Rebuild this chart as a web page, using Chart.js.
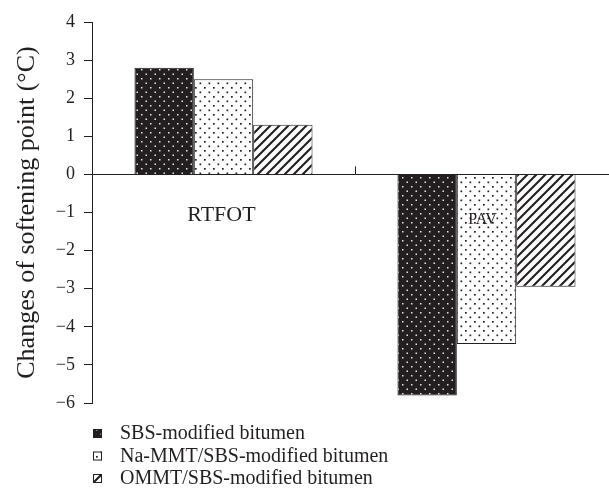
<!DOCTYPE html>
<html>
<head>
<meta charset="utf-8">
<script src="https://cdn.jsdelivr.net/npm/chart.js@4.4.0/dist/chart.umd.min.js"></script>
<style>
  html, body { margin:0; padding:0; background:#fff; overflow:hidden; }
  #wrap { width:630px; height:493px; }
</style>
</head>
<body>
<div id="wrap"><canvas id="chart"></canvas></div>
<script>
// data
const categories = ["RTFOT", "PAV"];
const seriesNames = ["SBS-modified bitumen", "Na-MMT/SBS-modified bitumen", "OMMT/SBS-modified bitumen"];
const sbsValues = [2.8, -5.8];
const naMmtValues = [2.5, -4.45];
const ommtValues = [1.3, -2.95];
const yTicks = [4, 3, 2, 1, 0, -1, -2, -3, -4, -5, -6];

const INK = "#231f20";
const SERIF = "'Liberation Serif', 'DejaVu Serif', serif";

// fill patterns
function makePattern(kind){
  const c = document.createElement("canvas");
  c.width = 9; c.height = 9;
  const g = c.getContext("2d");
  if(kind === "dark"){
    g.fillStyle = INK; g.fillRect(0,0,9,9);
    g.fillStyle = "#e8e8e8";
    g.fillRect(1.5,1.5,1.5,1.5);
    g.fillRect(6,6,1.5,1.5);
  } else if(kind === "dots"){
    g.fillStyle = "#ffffff"; g.fillRect(0,0,9,9);
    g.fillStyle = INK;
    g.fillRect(1.5,1.5,1.7,1.7);
    g.fillRect(6,6,1.7,1.7);
  } else {
    g.fillStyle = "#ffffff"; g.fillRect(0,0,9,9);
    g.strokeStyle = INK; g.lineWidth = 2.1;
    g.beginPath();
    g.moveTo(-1,1); g.lineTo(1,-1);
    g.moveTo(0,9); g.lineTo(9,0);
    g.moveTo(8,10); g.lineTo(10,8);
    g.stroke();
  }
  return g.createPattern(c, "repeat");
}

const fills = [makePattern("dark"), makePattern("dots"), makePattern("hatch")];

// category labels + separator tick + legend
const extrasPlugin = {
  id: "extras",
  afterDatasetsDraw(chart){
    const ctx = chart.ctx;
    const x = chart.scales.x, y = chart.scales.y;
    const y0 = y.getPixelForValue(0);
    ctx.save();
    // separator tick between categories
    const mid = (x.getPixelForValue(0) + x.getPixelForValue(1)) / 2;
    ctx.strokeStyle = INK; ctx.lineWidth = 1;
    ctx.beginPath();
    ctx.moveTo(Math.round(mid)+0.5, y0 - 8);
    ctx.lineTo(Math.round(mid)+0.5, y0);
    ctx.stroke();
    // category labels
    ctx.fillStyle = INK;
    ctx.textAlign = "center";
    ctx.textBaseline = "alphabetic";
    ctx.font = "22px " + SERIF;
    ctx.fillText(categories[0], x.getPixelForValue(0) - 2, y0 + 47);
    ctx.font = "16px " + SERIF;
    ctx.fillText(categories[1], x.getPixelForValue(1) - 4, y0 + 50);
    // legend
    ctx.textAlign = "left";
    ctx.font = "20px " + SERIF;
    chart.data.datasets.forEach((ds, i)=>{
      const ly = chart.chartArea.bottom + 30 + i * 22.5;
      ctx.fillStyle = ds.backgroundColor;
      ctx.fillRect(93, ly - 4, 9, 9);
      ctx.strokeStyle = INK;
      ctx.strokeRect(93.5, ly - 3.5, 8, 8);
      ctx.fillStyle = INK;
      ctx.fillText(ds.label, 120, ly + 6);
    });
    ctx.restore();
  }
};

new Chart(document.getElementById("chart"), {
  type: "bar",
  data: {
    labels: categories,
    datasets: [
      { label: seriesNames[0], data: sbsValues, backgroundColor: fills[0], borderColor: INK, borderWidth: 1 },
      { label: seriesNames[1], data: naMmtValues, backgroundColor: fills[1], borderColor: INK, borderWidth: 1 },
      { label: seriesNames[2], data: ommtValues, backgroundColor: fills[2], borderColor: INK, borderWidth: 1 }
    ]
  },
  options: {
    responsive: true,
    maintainAspectRatio: false,
    animation: false,
    layout: { padding: { left: 0, right: 12, top: 22, bottom: 90 } },
    datasets: { bar: { categoryPercentage: 0.677, barPercentage: 1.0 } },
    plugins: { legend: { display: false }, tooltip: { enabled: false } },
    scales: {
      x: {
        type: "category",
        axis: "x",
        position: { y: 0 },
        grid: { display: false },
        border: { display: true, color: INK, width: 1 },
        ticks: { display: false }
      },
      y: {
        min: -6, max: 4,
        afterFit(s){ s.width = 92; },
        afterBuildTicks(s){ s.ticks = yTicks.map(v=>({value:v})); },
        grid: { drawOnChartArea: false, drawTicks: true, tickLength: 8, color: INK },
        border: { display: true, color: INK, width: 1 },
        ticks: {
          padding: 9,
          color: INK,
          font: { family: SERIF, size: 18 },
          callback: v => v < 0 ? "\u2212" + Math.abs(v) : String(v)
        },
        title: {
          display: true,
          text: "Changes of softening point (\u00b0C)",
          color: INK,
          font: { family: SERIF, size: 26 },
          padding: { top: 12, bottom: 0 }
        }
      }
    }
  },
  plugins: [extrasPlugin]
});
</script>
</body>
</html>
